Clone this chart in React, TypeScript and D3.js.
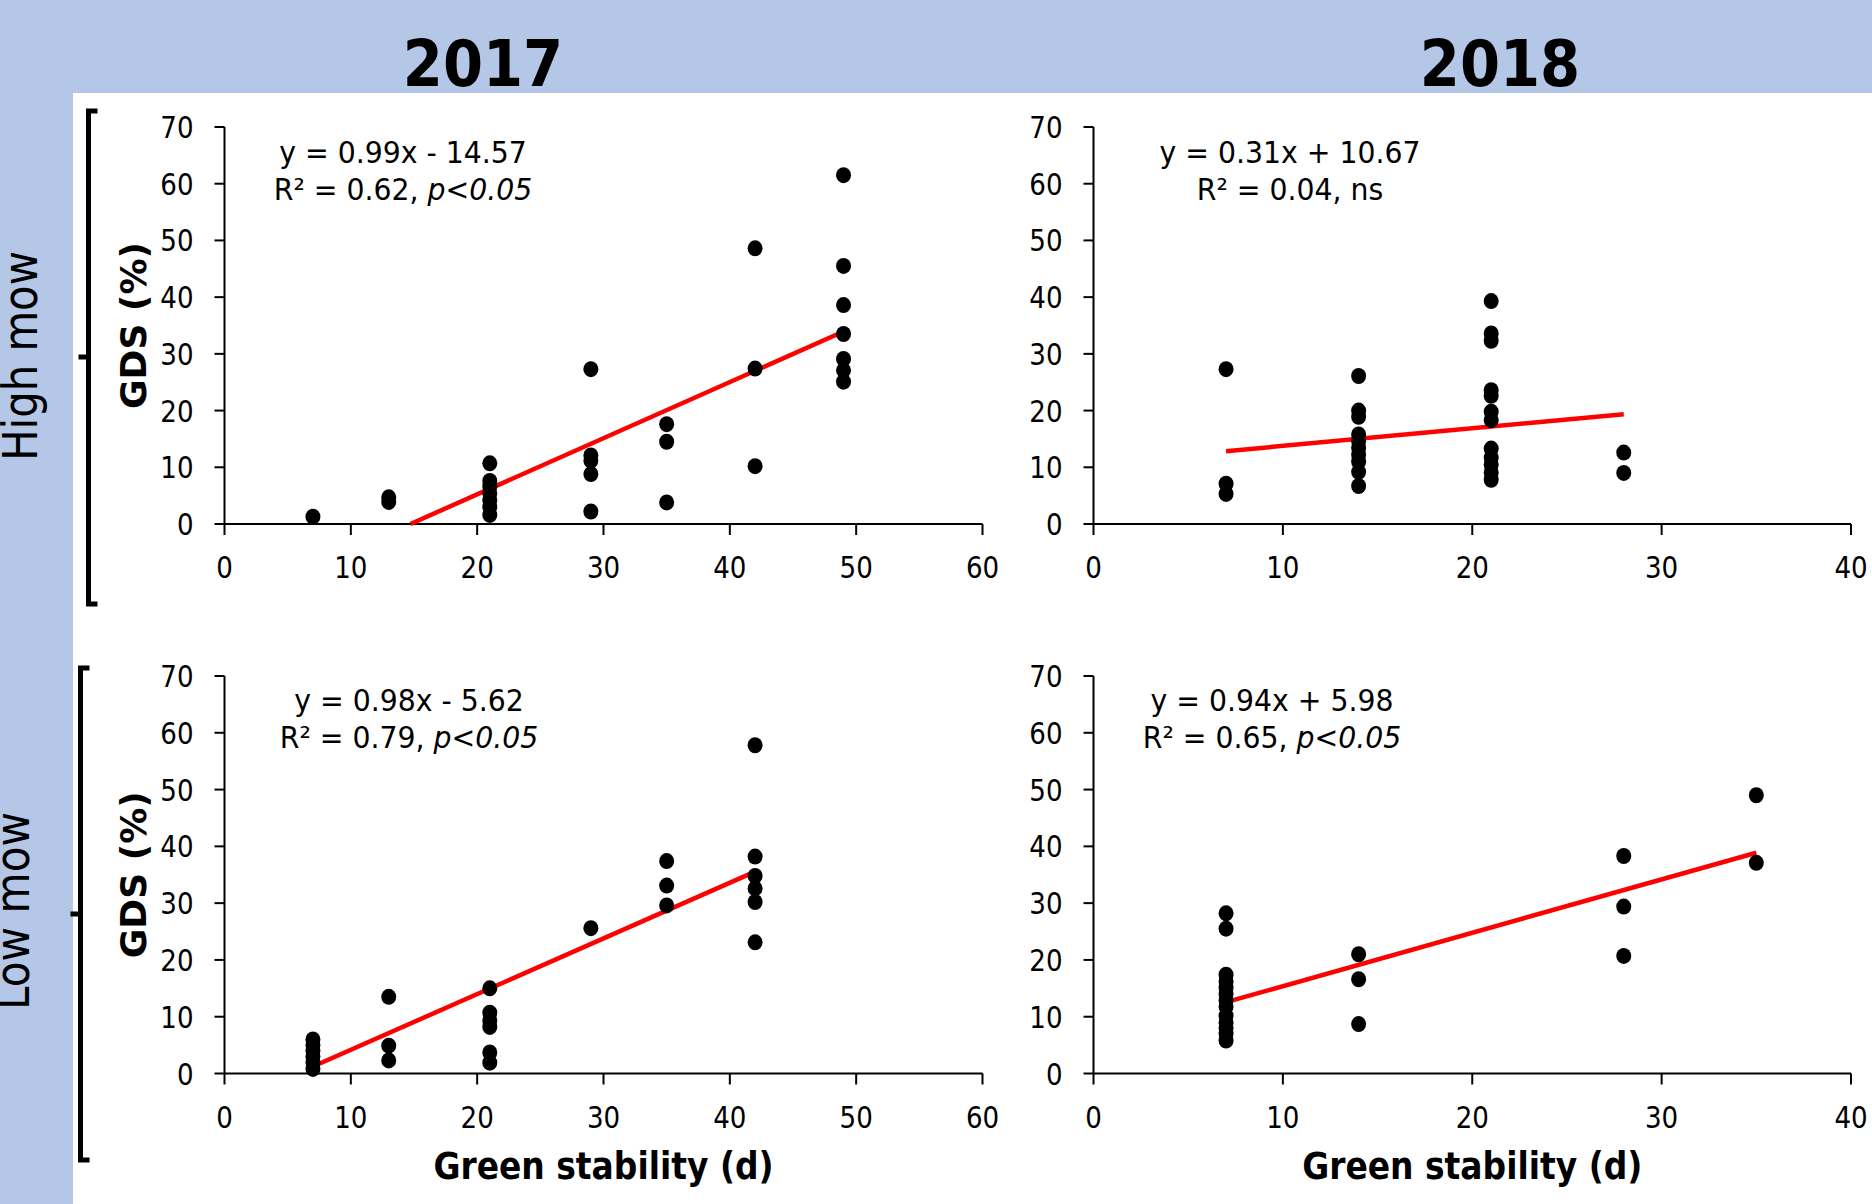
import React from "react";
import * as d3 from "d3";

// ---------- data ----------
const hm2017X = [7, 13, 13, 21, 21, 21, 21, 21, 21, 21, 29, 29, 29, 29, 29, 35, 35, 35, 42, 42, 42, 49, 49, 49, 49, 49, 49, 49];
const hm2017Y = [1.3, 4.7, 3.9, 10.7, 7.6, 6.6, 5.4, 4.2, 3.0, 1.6, 27.3, 12.1, 11.2, 8.8, 2.2, 17.6, 14.5, 3.8, 48.6, 27.4, 10.2, 61.5, 45.5, 38.6, 33.5, 29.1, 27.1, 25.1];

const hm2018X = [7, 7, 7, 14, 14, 14, 14, 14, 14, 14, 14, 14, 14, 21, 21, 21, 21, 21, 21, 21, 21, 21, 21, 21, 21, 28, 28];
const hm2018Y = [27.3, 7.1, 5.3, 26.1, 20.0, 18.9, 15.8, 14.6, 13.4, 12.2, 11.0, 9.2, 6.7, 39.3, 33.6, 32.3, 23.6, 22.6, 19.8, 18.3, 13.3, 11.7, 10.5, 9.1, 7.8, 12.6, 9.0];

const lm2017X = [7, 7, 7, 7, 7, 7, 13, 13, 13, 21, 21, 21, 21, 21, 21, 29, 35, 35, 35, 42, 42, 42, 42, 42, 42];
const lm2017Y = [6.0, 5.0, 4.0, 3.0, 2.0, 0.8, 13.5, 4.9, 2.3, 15.0, 10.7, 9.3, 8.2, 3.7, 1.9, 25.6, 37.4, 33.1, 29.6, 57.8, 38.2, 34.8, 32.6, 30.2, 23.1];

const lm2018X = [7, 7, 7, 7, 7, 7, 7, 7, 7, 7, 7, 7, 7, 14, 14, 14, 28, 28, 28, 35, 35];
const lm2018Y = [28.2, 25.5, 17.4, 16.2, 15.1, 14.0, 12.9, 11.8, 10.2, 9.0, 8.0, 7.0, 5.8, 21.0, 16.6, 8.7, 38.3, 29.4, 20.7, 49.0, 37.1];

const slopes = [0.99, 0.31, 0.98, 0.94];
const intercepts = [-14.57, 10.67, -5.62, 5.98];
const eqLine1 = ["y = 0.99x - 14.57", "y = 0.31x + 10.67", "y = 0.98x - 5.62", "y = 0.94x + 5.98"];
const eqR2 = ["R² = 0.62, ", "R² = 0.04, ns", "R² = 0.79, ", "R² = 0.65, "];
const eqSig = ["p<0.05", "", "p<0.05", "p<0.05"];

const yTicks = [0, 10, 20, 30, 40, 50, 60, 70];
const xTicks2017 = [0, 10, 20, 30, 40, 50, 60];
const xTicks2018 = [0, 10, 20, 30, 40];
const yearLabels = ["2017", "2018"];
const rowLabels = ["High mow", "Low mow"];

// ---------- layout ----------
const W = 1872;
const H = 1204;
const FONT = "DejaVu Sans";
const BLUE = "#b4c7e7";

type PanelDef = {
  xs: number[];
  ys: number[];
  xMax: number;
  xTicks: number[];
  left: number;
  right: number;
  bottom: number;
  top: number;
  eqX: number;
  eqY: number;
  gds: boolean;
  xTitle: boolean;
};

const panels: PanelDef[] = [
  { xs: hm2017X, ys: hm2017Y, xMax: 60, xTicks: xTicks2017, left: 224.5, right: 982.5, bottom: 524, top: 127, eqX: 403, eqY: 163, gds: true, xTitle: false },
  { xs: hm2018X, ys: hm2018Y, xMax: 40, xTicks: xTicks2018, left: 1093.5, right: 1851, bottom: 524, top: 127, eqX: 1290, eqY: 163, gds: false, xTitle: false },
  { xs: lm2017X, ys: lm2017Y, xMax: 60, xTicks: xTicks2017, left: 224.5, right: 982.5, bottom: 1073.5, top: 676, eqX: 409, eqY: 711, gds: true, xTitle: true },
  { xs: lm2018X, ys: lm2018Y, xMax: 40, xTicks: xTicks2018, left: 1093.5, right: 1851, bottom: 1073.5, top: 676, eqX: 1272, eqY: 711, gds: false, xTitle: true },
];

type TProps = {
  x: number;
  y: number;
  sx?: number;
  size: number;
  weight?: string | number;
  anchor?: "start" | "middle" | "end";
  rotate?: number;
  children?: React.ReactNode;
};

const T = ({ x, y, sx = 1, size, weight = "normal", anchor = "middle", rotate, children }: TProps) => (
  <text
    transform={`translate(${x},${y})${rotate ? ` rotate(${rotate})` : ""} scale(${sx},1)`}
    textAnchor={anchor}
    fontSize={size}
    fontWeight={weight}
    fontFamily={FONT}
    fill="#000"
  >
    {children}
  </text>
);

const Panel = ({ p, i }: { p: PanelDef; i: number }) => {
  const x = d3.scaleLinear().domain([0, p.xMax]).range([p.left, p.right]);
  const y = d3.scaleLinear().domain([0, 70]).range([p.bottom, p.top]);
  const m = slopes[i];
  const b = intercepts[i];
  const xMin = d3.min(p.xs) as number;
  const xMaxData = d3.max(p.xs) as number;
  let x0 = xMin;
  if (m * x0 + b < 0) x0 = -b / m;
  const line = d3.line<number>().x((v) => x(v)).y((v) => y(m * v + b));
  return (
    <g>
      {/* axes */}
      <line x1={x(0)} x2={x(p.xMax)} y1={y(0)} y2={y(0)} stroke="#000" strokeWidth={2} />
      <line x1={x(0)} x2={x(0)} y1={y(0)} y2={y(70)} stroke="#000" strokeWidth={2} />
      {yTicks.map((t) => (
        <g key={"y" + t}>
          <line x1={x(0) - 10} x2={x(0)} y1={y(t)} y2={y(t)} stroke="#000" strokeWidth={2} />
          <T x={x(0) - 31} y={y(t) + 11} size={30} sx={0.87} anchor="end">
            {t}
          </T>
        </g>
      ))}
      {p.xTicks.map((t) => (
        <g key={"x" + t}>
          <line x1={x(t)} x2={x(t)} y1={y(0)} y2={y(0) + 11} stroke="#000" strokeWidth={2} />
          <T x={x(t)} y={y(0) + 54} size={30} sx={0.87}>
            {t}
          </T>
        </g>
      ))}
      {/* trend line */}
      <path d={line([x0, xMaxData]) || ""} stroke="#ff0000" strokeWidth={4.5} fill="none" />
      {/* points */}
      {p.xs.map((xv, k) => (
        <ellipse key={k} cx={x(xv)} cy={y(p.ys[k])} rx={7.5} ry={8} fill="#000" />
      ))}
      {/* equation */}
      <T x={p.eqX} y={p.eqY} size={29.5} sx={0.96}>
        {eqLine1[i]}
      </T>
      <T x={p.eqX} y={p.eqY + 37} size={29.5} sx={0.96}>
        {eqR2[i]}
        {eqSig[i] ? <tspan fontStyle="italic">{eqSig[i]}</tspan> : null}
      </T>
      {p.gds ? (
        <T x={p.left - 79} y={(p.top + p.bottom) / 2} size={36} weight="bold" rotate={-90}>
          GDS (%)
        </T>
      ) : null}
      {p.xTitle ? (
        <T x={(p.left + p.right) / 2} y={1179} size={37} sx={0.89} weight="bold">
          Green stability (d)
        </T>
      ) : null}
    </g>
  );
};

const Bracket = ({ x, top, bottom, mid, serif, notch }: { x: number; top: number; bottom: number; mid: number; serif: number; notch: number }) => (
  <g stroke="#000" strokeWidth={5} fill="none">
    <path d={`M${x + serif},${top} L${x},${top} L${x},${bottom} L${x + serif},${bottom}`} />
    <path d={`M${x},${mid} L${x - notch},${mid}`} />
  </g>
);

export default function App() {
  return (
    <svg
      width={W}
      height={H}
      viewBox={`0 0 ${W} ${H}`}
      style={{ position: "absolute", left: 0, top: 0, display: "block" }}
    >
      <rect x={0} y={0} width={W} height={H} fill={BLUE} />
      <rect x={73} y={93} width={W - 73} height={H - 93} fill="#fff" />
      <T x={483} y={86} size={64} sx={0.9} weight="bold">
        {yearLabels[0]}
      </T>
      <T x={1500} y={86} size={64} sx={0.9} weight="bold">
        {yearLabels[1]}
      </T>
      <T x={37} y={356} size={48} sx={0.87} rotate={-90}>
        {rowLabels[0]}
      </T>
      <T x={29} y={911} size={48} sx={0.88} rotate={-90}>
        {rowLabels[1]}
      </T>
      <Bracket x={88.5} top={111} bottom={604} mid={357} serif={9} notch={10} />
      <Bracket x={80.5} top={668} bottom={1160} mid={914} serif={9} notch={10} />
      {panels.map((p, i) => (
        <Panel key={i} p={p} i={i} />
      ))}
    </svg>
  );
}
